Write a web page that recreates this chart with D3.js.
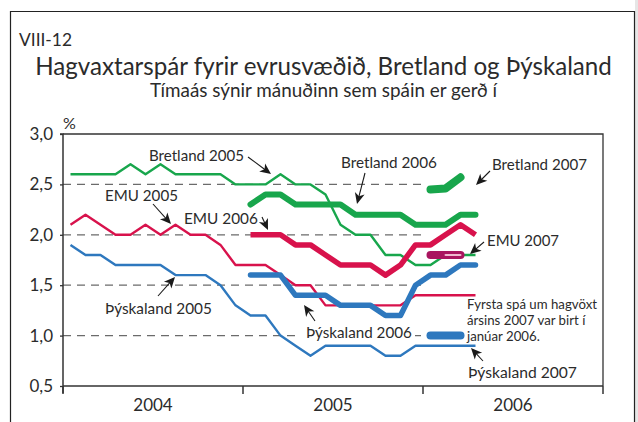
<!DOCTYPE html>
<html>
<head>
<meta charset="utf-8">
<script src="https://cdn.jsdelivr.net/npm/d3@7"></script>
<style>
  html, body { margin: 0; padding: 0; background: #fff; }
  svg { display: block; }
  text { font-family: Lato, "Open Sans", sans-serif; fill: #2b2b2b; }
</style>
</head>
<body>
<svg id="chart" width="638" height="422"></svg>
<script>
// Months Jan 2004 – Dec 2006, one band per month
const years = ["2004", "2005", "2006"];
const months = years.flatMap(y => d3.range(1, 13).map(m => `${y}-${String(m).padStart(2, "0")}`));
const yTicks = [0.5, 1.0, 1.5, 2.0, 2.5, 3.0];
const gridValues = [1.0, 1.5, 2.0, 2.5];

// Forecasts (%) — first value is for the month given by each start
const bretland2005 = [2.6, 2.6, 2.6, 2.6, 2.7, 2.6, 2.7, 2.6, 2.6, 2.6, 2.6, 2.5, 2.5, 2.5, 2.6, 2.5, 2.5, 2.4, 2.1, 2.0, 2.0, 1.8, 1.8, 1.7, 1.7, 1.8, 1.8, 1.8];
const bretland2006 = [2.3, 2.4, 2.4, 2.3, 2.3, 2.3, 2.3, 2.2, 2.2, 2.2, 2.2, 2.1, 2.1, 2.1, 2.2, 2.2];
const bretland2007 = [2.45, 2.46, 2.57];
const emu2005 = [2.1, 2.2, 2.1, 2.0, 2.0, 2.1, 2.0, 2.1, 2.0, 2.0, 1.9, 1.7, 1.7, 1.7, 1.6, 1.5, 1.5, 1.3, 1.3, 1.3, 1.3, 1.3, 1.3, 1.4, 1.4, 1.4, 1.4, 1.4];
const emu2006 = [2.0, 2.0, 2.0, 1.9, 1.9, 1.8, 1.7, 1.7, 1.7, 1.6, 1.7, 1.9, 1.9, 2.0, 2.1, 2.0];
const emu2007 = [1.8, 1.8, 1.8];
const thyskaland2005 = [1.9, 1.8, 1.8, 1.7, 1.7, 1.7, 1.7, 1.6, 1.6, 1.6, 1.5, 1.3, 1.2, 1.2, 1.0, 0.9, 0.8, 0.9, 0.9, 0.9, 0.9, 0.8, 0.8, 0.9, 0.9, 0.9, 0.9, 0.9];
const thyskaland2006 = [1.6, 1.6, 1.6, 1.4, 1.4, 1.4, 1.3, 1.3, 1.3, 1.2, 1.2, 1.5, 1.6, 1.6, 1.7, 1.7];
const thyskaland2007 = [1.0, 1.0, 1.0];

const GREEN = "#18a64c", RED = "#d8124c", BLUE = "#2e78be", PURPLE = "#a9155f";

const series = [
  { values: bretland2005, start: "2004-01", color: GREEN, width: 2.4, cap: "butt" },
  { values: bretland2006, start: "2005-01", color: GREEN, width: 6, cap: "round" },
  { values: emu2005, start: "2004-01", color: RED, width: 2.4, cap: "butt" },
  { values: emu2006, start: "2005-01", color: RED, width: 5.5, cap: "butt" },
  { values: thyskaland2005, start: "2004-01", color: BLUE, width: 2.4, cap: "butt" },
  { values: thyskaland2006, start: "2005-01", color: BLUE, width: 5.5, cap: "round" },
  { values: bretland2007, start: "2006-01", color: GREEN, width: 8, cap: "round" },
  { values: emu2007, start: "2006-01", color: PURPLE, width: 8, cap: "round" },
  { values: thyskaland2007, start: "2006-01", color: BLUE, width: 8, cap: "round" }
];

const svg = d3.select("#chart");
const plotL = 63, plotR = 603, plotT = 134, plotB = 386;

svg.append("rect").attr("width", 638).attr("height", 422).attr("fill", "#fff");
svg.append("rect").attr("x", 635).attr("width", 3).attr("height", 422).attr("fill", "#e6e6e6");
svg.append("path").attr("d", "M10.5,422V11.5H634.5V422")
  .attr("fill", "none").attr("stroke", "#222").attr("stroke-width", 1.2);

const x = d3.scaleBand().domain(months).range([plotL, plotR]);
const xc = m => x(m) + x.bandwidth() / 2;
const xYear = d3.scaleBand().domain(years).range([plotL, plotR]);
const y = d3.scaleLinear().domain([0.5, 3.0]).range([plotB, plotT]);

// Scale a text's font size so it spans the given width
function fit(sel, width) {
  const w = sel.node().getComputedTextLength();
  const fs = parseFloat(sel.attr("font-size"));
  sel.attr("font-size", fs * width / w);
  return sel;
}

// Headings
fit(svg.append("text").attr("x", 19).attr("y", 46).attr("font-size", 15).text("VIII-12"), 53);
fit(svg.append("text").attr("x", 323.5).attr("y", 75).attr("text-anchor", "middle").attr("font-size", 20)
  .text("Hagvaxtarspár fyrir evrusvæðið, Bretland og Þýskaland"), 577);
fit(svg.append("text").attr("x", 323.5).attr("y", 97).attr("text-anchor", "middle").attr("font-size", 15)
  .text("Tímaás sýnir mánuðinn sem spáin er gerð í"), 347);

// Dashed reference lines (stop at the end of 2005)
svg.append("g").selectAll("line").data(gridValues).join("line")
  .attr("x1", plotL).attr("x2", x("2006-01"))
  .attr("y1", d => y(d)).attr("y2", d => y(d))
  .attr("stroke", "#6b6b6b").attr("stroke-width", 1.3).attr("stroke-dasharray", "8,6");

// Top and right border of the plot
svg.append("path").attr("d", `M${plotL},${plotT}H${plotR}V${plotB}`)
  .attr("fill", "none").attr("stroke", "#333").attr("stroke-width", 1.3);

// Y axis
const yAxis = svg.append("g").attr("transform", `translate(${plotL},0)`)
  .call(d3.axisLeft(y).tickValues(yTicks).tickSize(3).tickFormat(d => d3.format(".1f")(d).replace(".", ",")));
yAxis.select(".domain").attr("stroke", "#333").attr("stroke-width", 1.5).attr("d", `M-3,${plotT}H0V${plotB + 7}`);
yAxis.selectAll(".tick line").attr("stroke", "#333").attr("stroke-width", 1.3);
yAxis.selectAll(".tick text").attr("x", -10).attr("font-size", 17)
  .style("font-family", "Lato, sans-serif").attr("fill", "#2b2b2b");
svg.append("text").attr("x", 63).attr("y", 129).attr("font-size", 16).text("%");

// X axis: year bands with boundary ticks
const xAxis = svg.append("g").attr("transform", `translate(0,${plotB})`);
xAxis.append("line").attr("x1", plotL).attr("x2", plotR).attr("stroke", "#333").attr("stroke-width", 1.5);
xAxis.selectAll("line.tk").data(years.concat(["end"])).join("line").attr("class", "tk")
  .attr("x1", d => d === "end" ? plotR : xYear(d)).attr("x2", d => d === "end" ? plotR : xYear(d))
  .attr("y1", 0).attr("y2", 8).attr("stroke", "#333").attr("stroke-width", 1.5);
xAxis.selectAll("text").data(years).join("text")
  .attr("x", d => xYear(d) + xYear.bandwidth() / 2).attr("y", 25)
  .attr("text-anchor", "middle").attr("font-size", 17).text(d => d);

// Forecast lines
const line = d3.line().x(d => xc(d.m)).y(d => y(d.v));
series.forEach(s => {
  const i0 = months.indexOf(s.start);
  const pts = s.values.map((v, i) => ({ m: months[i0 + i], v }));
  svg.append("path").datum(pts).attr("d", line)
    .attr("fill", "none").attr("stroke", s.color).attr("stroke-width", s.width)
    .attr("stroke-linecap", s.cap).attr("stroke-linejoin", "round");
});
// Lighter sheen on the final EMU 2007 segment
{
  const i0 = months.indexOf("2006-01");
  const pts = emu2007.slice(1).map((v, i) => ({ m: months[i0 + 1 + i], v }));
  svg.append("path").datum(pts).attr("d", line)
    .attr("fill", "none").attr("stroke", "#f0b8cf").attr("stroke-width", 2).attr("stroke-linecap", "round");
}

// Series labels with pointer arrows
const labels = [
  { t: "Bretland 2005", x: 149, y: 156, w: 95, a: [[248, 157], [271, 174]] },
  { t: "Bretland 2006", x: 341, y: 163, w: 96, a: [[365, 173], [357, 204]] },
  { t: "Bretland 2007", x: 492, y: 165, w: 95, a: [[490, 171], [476, 185]] },
  { t: "EMU 2005", x: 105, y: 196, w: 73, a: [[153, 204], [171, 224]] },
  { t: "EMU 2006", x: 184, y: 219, w: 74, a: [[262, 217], [268, 230]] },
  { t: "EMU 2007", x: 487, y: 241, w: 72, a: [[484, 242], [470, 254]] },
  { t: "Þýskaland 2005", x: 105, y: 309, w: 107, a: [[158, 296], [175, 277]] },
  { t: "Þýskaland 2006", x: 306, y: 333, w: 106, a: [[315, 321], [304, 305]], bg: [298, 324, 117, 19] },
  { t: "Þýskaland 2007", x: 468, y: 373, w: 109, a: [[483, 361], [471, 348]] }
];
labels.forEach(l => {
  if (l.bg) svg.append("rect").attr("x", l.bg[0]).attr("y", l.bg[1]).attr("width", l.bg[2]).attr("height", l.bg[3]).attr("fill", "#fff");
  fit(svg.append("text").attr("x", l.x).attr("y", l.y).attr("dy", "0.35em").attr("font-size", 14).text(l.t), l.w);
  const [[x1, y1], [x2, y2]] = l.a;
  const ang = Math.atan2(y2 - y1, x2 - x1);
  const len = Math.hypot(x2 - x1, y2 - y1);
  const g = svg.append("g").attr("transform", `translate(${x2},${y2}) rotate(${ang * 180 / Math.PI})`);
  g.append("line").attr("x1", -len).attr("x2", -6).attr("stroke", "#1a1a1a").attr("stroke-width", 1.1);
  g.append("path").attr("d", "M0,0L-11,-5L-8,0L-11,5Z").attr("fill", "#1a1a1a");
});

// Note about the first 2007 forecast
const note = ["Fyrsta spá um hagvöxt", "ársins 2007 var birt í", "janúar 2006."];
const noteText = svg.append("g").selectAll("text").data(note).join("text")
  .attr("x", 467).attr("y", (d, i) => 304 + i * 16).attr("dy", "0.35em").attr("font-size", 12).text(d => d);
const noteSize = parseFloat(fit(noteText.filter((d, i) => i === 0), 130).attr("font-size"));
noteText.attr("font-size", noteSize);
</script>
</body>
</html>
